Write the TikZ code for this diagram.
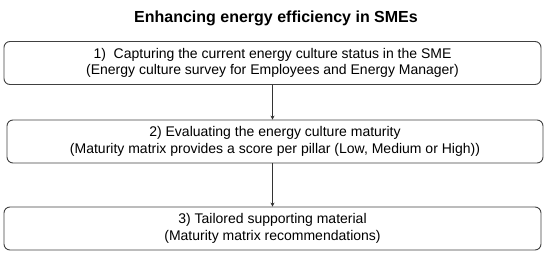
\documentclass[tikz,border=0pt]{standalone}
\usepackage{fontspec}
\setmainfont{Liberation Sans}
\usetikzlibrary{arrows.meta}

\begin{document}
\begin{tikzpicture}[x=1pt, y=1pt, >={Stealth[length=4pt, width=4pt]},
  caja/.style={draw=black!75, line width=0.9pt, rounded corners=6pt,
    minimum width=537pt, minimum height=43pt, inner sep=0pt, align=center,
    font=\fontsize{14}{16.5}\selectfont},
  flecha/.style={->, line width=0.6pt, draw=black!80}]
  \useasboundingbox (0,0) rectangle (550,258);
  % titulo
  \node[font=\bfseries\fontsize{16}{19}\selectfont] (titulo) at (276,240)
    {Enhancing energy efficiency in SMEs};
  % los tres pasos
  \node[caja] (paso1) at (272.5,195)
    {1)~~Capturing the current energy culture status in the SME\\
     (Energy culture survey for Employees and Energy Manager)};
  \node[caja, minimum width=536pt] (paso2) at (275,116.5)
    {2) Evaluating the energy culture maturity\\
     (Maturity matrix provides a score per pillar (Low, Medium or High))};
  \node[caja] (paso3) at (272.5,29.5)
    {3) Tailored supporting material\\
     (Maturity matrix recommendations)};
  % flechas entre pasos
  \draw[flecha] (paso1.south) -- (paso1.south |- paso2.north);
  \draw[flecha] (paso3.north |- paso2.south) -- (paso3.north);
\end{tikzpicture}
\end{document}
